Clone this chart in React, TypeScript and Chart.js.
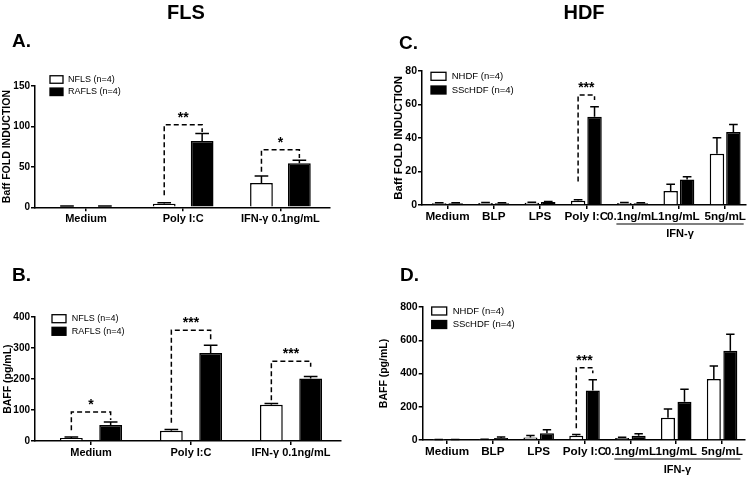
import React, { useEffect, useRef } from "react";
import { Chart, registerables } from "chart.js";
Chart.register(...registerables);

const FONT = "'Liberation Sans', Arial, Helvetica, sans-serif";

// ---------- FLS data ----------
const flsCategories = ["Medium", "Poly I:C", "IFN-γ 0.1ng/mL"];
const flsSeries = ["NFLS (n=4)", "RAFLS (n=4)"];

// Panel A: Baff fold induction
const aNFLS = [1, 4.5, 30];
const aNFLSErr = [1.6, 5.5, 38.5];
const aRAFLS = [1, 82, 54.5];
const aRAFLSErr = [1.6, 91, 58];
const aTicks = [0, 50, 100, 150];
const aBracketIdx = [1, 2];
const aBracketFrom = [15, 44];
const aBracketTop = [102, 71];
const aBracketTo = [93, 61];
const aBracketStars = ["**", "*"];

// Panel B: BAFF pg/mL
const bNFLS = [10, 33, 117];
const bNFLSErr = [13, 37, 121];
const bRAFLS = [52, 284, 202];
const bRAFLSErr = [61, 309, 208];
const bTicks = [0, 100, 200, 300, 400];
const bBracketIdx = [0, 1, 2];
const bBracketFrom = [35, 59, 132];
const bBracketTop = [94, 358, 258];
const bBracketTo = [68, 326, 240];
const bBracketStars = ["*", "***", "***"];

// ---------- HDF data ----------
const hdfCategories = ["Medium", "BLP", "LPS", "Poly I:C", "0.1ng/mL", "1ng/mL", "5ng/mL"];
const hdfSeries = ["NHDF (n=4)", "SScHDF (n=4)"];
const hdfGroupLabel = "IFN-γ";

// Panel C: Baff fold induction
const cNHDF = [1, 1.2, 1.3, 2.5, 1.2, 8.3, 30.5];
const cNHDFErr = [1.3, 1.5, 1.6, 3.2, 1.5, 12.3, 40];
const cSScHDF = [1, 1, 1.8, 52.5, 1, 15.2, 43.5];
const cSScHDFErr = [1.3, 1.3, 2.1, 58.5, 1.3, 16.8, 48];
const cTicks = [0, 20, 40, 60, 80];
const cBracketIdx = [3];
const cBracketFrom = [14];
const cBracketTop = [65.5];
const cBracketTo = [62.5];
const cBracketStars = ["***"];

// Panel D: BAFF pg/mL
const dNHDF = [2, 3, 15, 25, 12, 134, 367];
const dNHDFErr = [3, 4, 27, 33, 17, 186, 445];
const dSScHDF = [2, 12, 40, 297, 25, 230, 537];
const dSScHDFErr = [3, 18, 62, 362, 38, 305, 636];
const dTicks = [0, 200, 400, 600, 800];
const dBracketIdx = [3];
const dBracketFrom = [70];
const dBracketTop = [435];
const dBracketTo = [401];
const dBracketStars = ["***"];

type Series = { label: string; values: number[]; err: number[]; fill: string };
type Brackets = { idx: number[]; from: number[]; top: number[]; to: number[]; stars: string[] };
type PanelCfg = {
  box: [number, number, number, number];
  area: [number, number, number, number];
  titleX: number;
  yTitle: string;
  yTitleSize: number;
  categories: string[];
  series: Series[];
  xRange: [number, number];
  yTicks: number[];
  tickSize: number;
  labelSize: number;
  catPct: number;
  barPct: number;
  brackets: Brackets;
  legend: { x: number; y: number; gap: number; w: number; h: number; tx: number; size: number };
  letter: { text: string; x: number; y: number };
  header?: { text: string; x: number; y: number };
  group?: { text: string; from: number; to: number; lineOffset: number; textOffset: number };
};

const panels: PanelCfg[] = [
  {
    box: [0, 0, 376, 240],
    area: [35, 85.8, 330, 207.3],
    titleX: 7.5,
    yTitle: "Baff FOLD INDUCTION",
    yTitleSize: 10.5,
    categories: flsCategories,
    series: [
      { label: flsSeries[0], values: aNFLS, err: aNFLSErr, fill: "#ffffff" },
      { label: flsSeries[1], values: aRAFLS, err: aRAFLSErr, fill: "#000000" },
    ],
    xRange: [-0.524, 2.51],
    yTicks: aTicks,
    tickSize: 10,
    labelSize: 11,
    catPct: 0.78,
    barPct: 0.6,
    brackets: { idx: aBracketIdx, from: aBracketFrom, top: aBracketTop, to: aBracketTo, stars: aBracketStars },
    legend: { x: 50, y: 79.5, gap: 12.3, w: 13, h: 7.5, tx: 18, size: 9 },
    letter: { text: "A.", x: 12, y: 42 },
    header: { text: "FLS", x: 186, y: 13 },
  },
  {
    box: [0, 240, 376, 239],
    area: [35, 317.2, 341, 441],
    titleX: 8,
    yTitle: "BAFF (pg/mL)",
    yTitleSize: 10.5,
    categories: flsCategories,
    series: [
      { label: flsSeries[0], values: bNFLS, err: bNFLSErr, fill: "#ffffff" },
      { label: flsSeries[1], values: bRAFLS, err: bRAFLSErr, fill: "#000000" },
    ],
    xRange: [-0.56, 2.5],
    yTicks: bTicks,
    tickSize: 10,
    labelSize: 11,
    catPct: 0.786,
    barPct: 0.58,
    brackets: { idx: bBracketIdx, from: bBracketFrom, top: bBracketTop, to: bBracketTo, stars: bBracketStars },
    legend: { x: 52, y: 318.7, gap: 12.6, w: 14, h: 8, tx: 19.7, size: 9 },
    letter: { text: "B.", x: 12, y: 276 },
  },
  {
    box: [376, 0, 377, 240],
    area: [422, 70.7, 746, 205],
    titleX: 398.5,
    yTitle: "Baff FOLD INDUCTION",
    yTitleSize: 11.5,
    categories: hdfCategories,
    series: [
      { label: hdfSeries[0], values: cNHDF, err: cNHDFErr, fill: "#ffffff" },
      { label: hdfSeries[1], values: cSScHDF, err: cSScHDFErr, fill: "#000000" },
    ],
    xRange: [-0.55, 6.45],
    yTicks: cTicks,
    tickSize: 10.5,
    labelSize: 11.7,
    catPct: 0.71,
    barPct: 0.88,
    brackets: { idx: cBracketIdx, from: cBracketFrom, top: cBracketTop, to: cBracketTo, stars: cBracketStars },
    legend: { x: 431, y: 76.3, gap: 13.7, w: 15, h: 8, tx: 20.7, size: 9.5 },
    letter: { text: "C.", x: 399, y: 43.5 },
    header: { text: "HDF", x: 584, y: 13 },
    group: { text: hdfGroupLabel, from: 3.65, to: 6.4, lineOffset: 19, textOffset: 29 },
  },
  {
    box: [376, 240, 377, 239],
    area: [422.7, 307, 745, 440],
    titleX: 384,
    yTitle: "BAFF (pg/mL)",
    yTitleSize: 10.5,
    categories: hdfCategories,
    series: [
      { label: hdfSeries[0], values: dNHDF, err: dNHDFErr, fill: "#ffffff" },
      { label: hdfSeries[1], values: dSScHDF, err: dSScHDFErr, fill: "#000000" },
    ],
    xRange: [-0.53, 6.5],
    yTicks: dTicks,
    tickSize: 10.5,
    labelSize: 11.7,
    catPct: 0.72,
    barPct: 0.85,
    brackets: { idx: dBracketIdx, from: dBracketFrom, top: dBracketTop, to: dBracketTo, stars: dBracketStars },
    legend: { x: 431.7, y: 311, gap: 13.5, w: 15, h: 8, tx: 21, size: 9.5 },
    letter: { text: "D.", x: 400, y: 276 },
    group: { text: hdfGroupLabel, from: 3.65, to: 6.4, lineOffset: 19, textOffset: 30 },
  },
];

function Panel({ cfg }: { cfg: PanelCfg }) {
  const ref = useRef<HTMLCanvasElement>(null);
  useEffect(() => {
    const canvas = ref.current;
    if (!canvas) return;
    const [ox, oy, w, h] = cfg.box;
    const [L, T, R, B] = cfg.area;
    const titleLH = cfg.yTitleSize * 1.2;
    const padLeft = Math.max(0, cfg.titleX - ox - titleLH / 2);
    const yWidth = L - ox - padLeft;
    const xHeight = oy + h - B;

    const decor = {
      id: "decor",
      afterDatasetsDraw(chart: any) {
        const ctx = chart.ctx as CanvasRenderingContext2D;
        const ys = chart.scales.y;
        ctx.save();
        ctx.strokeStyle = "#000";
        ctx.lineWidth = 1.5;
        // error bars (mean + SEM)
        cfg.series.forEach((s, k) => {
          const meta = chart.getDatasetMeta(k);
          meta.data.forEach((el: any, i: number) => {
            const p = el.getProps(["x", "y", "width"], true);
            if (s.err[i] <= s.values[i]) return;
            const yt = ys.getPixelForValue(s.err[i]);
            const cw = p.width * 0.3;
            ctx.beginPath();
            ctx.moveTo(p.x, p.y);
            ctx.lineTo(p.x, yt);
            ctx.moveTo(p.x - cw, yt);
            ctx.lineTo(p.x + cw, yt);
            ctx.stroke();
          });
        });
        // significance brackets
        const br = cfg.brackets;
        br.idx.forEach((ci, j) => {
          const e1: any = chart.getDatasetMeta(0).data[ci];
          const e2: any = chart.getDatasetMeta(1).data[ci];
          const x1 = e1.x;
          const x2 = e2.x;
          const yf = ys.getPixelForValue(br.from[j]);
          const ytp = ys.getPixelForValue(br.top[j]);
          const yto = ys.getPixelForValue(br.to[j]);
          ctx.setLineDash([5, 3]);
          ctx.beginPath();
          ctx.moveTo(x1, yf);
          ctx.lineTo(x1, ytp);
          ctx.lineTo(x2, ytp);
          ctx.lineTo(x2, yto);
          ctx.stroke();
          ctx.setLineDash([]);
          ctx.fillStyle = "#000";
          ctx.font = `bold 14px ${FONT}`;
          ctx.textAlign = "center";
          ctx.textBaseline = "alphabetic";
          ctx.fillText(br.stars[j], (x1 + x2) / 2, ytp - 3);
        });
        ctx.restore();
      },
      afterDraw(chart: any) {
        const ctx = chart.ctx as CanvasRenderingContext2D;
        ctx.save();
        ctx.fillStyle = "#000";
        ctx.strokeStyle = "#000";
        // header
        if (cfg.header) {
          ctx.font = `bold 20px ${FONT}`;
          ctx.textAlign = "center";
          ctx.textBaseline = "middle";
          ctx.fillText(cfg.header.text, cfg.header.x - ox, cfg.header.y - oy);
        }
        // panel letter
        ctx.font = `bold 19px ${FONT}`;
        ctx.textAlign = "left";
        ctx.textBaseline = "middle";
        ctx.fillText(cfg.letter.text, cfg.letter.x - ox, cfg.letter.y - oy);
        // legend
        const lg = cfg.legend;
        cfg.series.forEach((s, k) => {
          const cy = lg.y - oy + k * lg.gap;
          const bx = lg.x - ox;
          ctx.lineWidth = 1.3;
          ctx.fillStyle = s.fill;
          ctx.fillRect(bx, cy - lg.h / 2, lg.w, lg.h);
          ctx.strokeRect(bx, cy - lg.h / 2, lg.w, lg.h);
          ctx.fillStyle = "#000";
          ctx.font = `${lg.size}px ${FONT}`;
          ctx.textAlign = "left";
          ctx.textBaseline = "middle";
          ctx.fillText(s.label, bx + lg.tx, cy);
        });
        // group underline (IFN-γ)
        if (cfg.group) {
          const xs = chart.scales.x;
          const bottom = chart.chartArea.bottom;
          const gx1 = xs.getPixelForValue(cfg.group.from);
          const gx2 = xs.getPixelForValue(cfg.group.to);
          ctx.lineWidth = 1.2;
          ctx.beginPath();
          ctx.moveTo(gx1, bottom + cfg.group.lineOffset);
          ctx.lineTo(gx2, bottom + cfg.group.lineOffset);
          ctx.stroke();
          ctx.font = `bold ${cfg.labelSize - 0.7}px ${FONT}`;
          ctx.textAlign = "center";
          ctx.textBaseline = "middle";
          ctx.fillText(cfg.group.text, (gx1 + gx2) / 2, bottom + cfg.group.textOffset);
        }
        ctx.restore();
      },
    };

    const chart = new Chart(canvas, {
      type: "bar",
      data: {
        datasets: cfg.series.map((s) => ({
          label: s.label,
          data: s.values.map((v, i) => ({ x: i, y: v })),
          backgroundColor: s.fill,
          borderColor: "#000",
          borderWidth: 1.5,
          categoryPercentage: cfg.catPct,
          barPercentage: cfg.barPct,
        })),
      },
      options: {
        responsive: false,
        animation: false,
        devicePixelRatio: 1,
        layout: { padding: { left: padLeft, top: T - oy, right: ox + w - R, bottom: 0 } },
        plugins: { legend: { display: false }, tooltip: { enabled: false } },
        scales: {
          x: {
            type: "linear",
            offset: false,
            min: cfg.xRange[0],
            max: cfg.xRange[1],
            afterBuildTicks: (s: any) => {
              s.ticks = cfg.categories.map((_, i) => ({ value: i }));
            },
            afterFit: (s: any) => {
              s.height = xHeight;
            },
            ticks: {
              autoSkip: false,
              maxRotation: 0,
              minRotation: 0,
              padding: 1,
              color: "#000",
              font: { family: FONT, size: cfg.labelSize, weight: "bold" },
              callback: (v: any) => cfg.categories[Math.round(Number(v))] ?? "",
            },
            grid: { drawOnChartArea: false, drawTicks: true, tickLength: 4, color: "#000", lineWidth: 1.5, offset: false },
            border: { display: true, color: "#000", width: 1.5 },
          },
          y: {
            min: 0,
            max: cfg.yTicks[cfg.yTicks.length - 1],
            afterBuildTicks: (s: any) => {
              s.ticks = cfg.yTicks.map((v) => ({ value: v }));
            },
            afterFit: (s: any) => {
              s.width = yWidth;
            },
            ticks: {
              padding: 1,
              color: "#000",
              font: { family: FONT, size: cfg.tickSize, weight: "bold" },
            },
            grid: { drawOnChartArea: false, drawTicks: true, tickLength: 4, color: "#000", lineWidth: 1.5 },
            border: { display: true, color: "#000", width: 1.5 },
            title: {
              display: true,
              text: cfg.yTitle,
              color: "#000",
              padding: { top: 0, bottom: 0 },
              font: { family: FONT, size: cfg.yTitleSize, weight: "bold" },
            },
          },
        },
      } as any,
      plugins: [decor],
    });
    return () => chart.destroy();
  }, [cfg]);
  const [ox, oy, w, h] = cfg.box;
  return (
    <canvas
      ref={ref}
      width={w}
      height={h}
      style={{ position: "absolute", left: ox, top: oy, width: w, height: h }}
    />
  );
}

export default function App() {
  return (
    <div style={{ position: "absolute", left: 0, top: 0, width: 753, height: 479, background: "#fff", overflow: "hidden" }}>
      {panels.map((p, i) => (
        <Panel key={i} cfg={p} />
      ))}
    </div>
  );
}
